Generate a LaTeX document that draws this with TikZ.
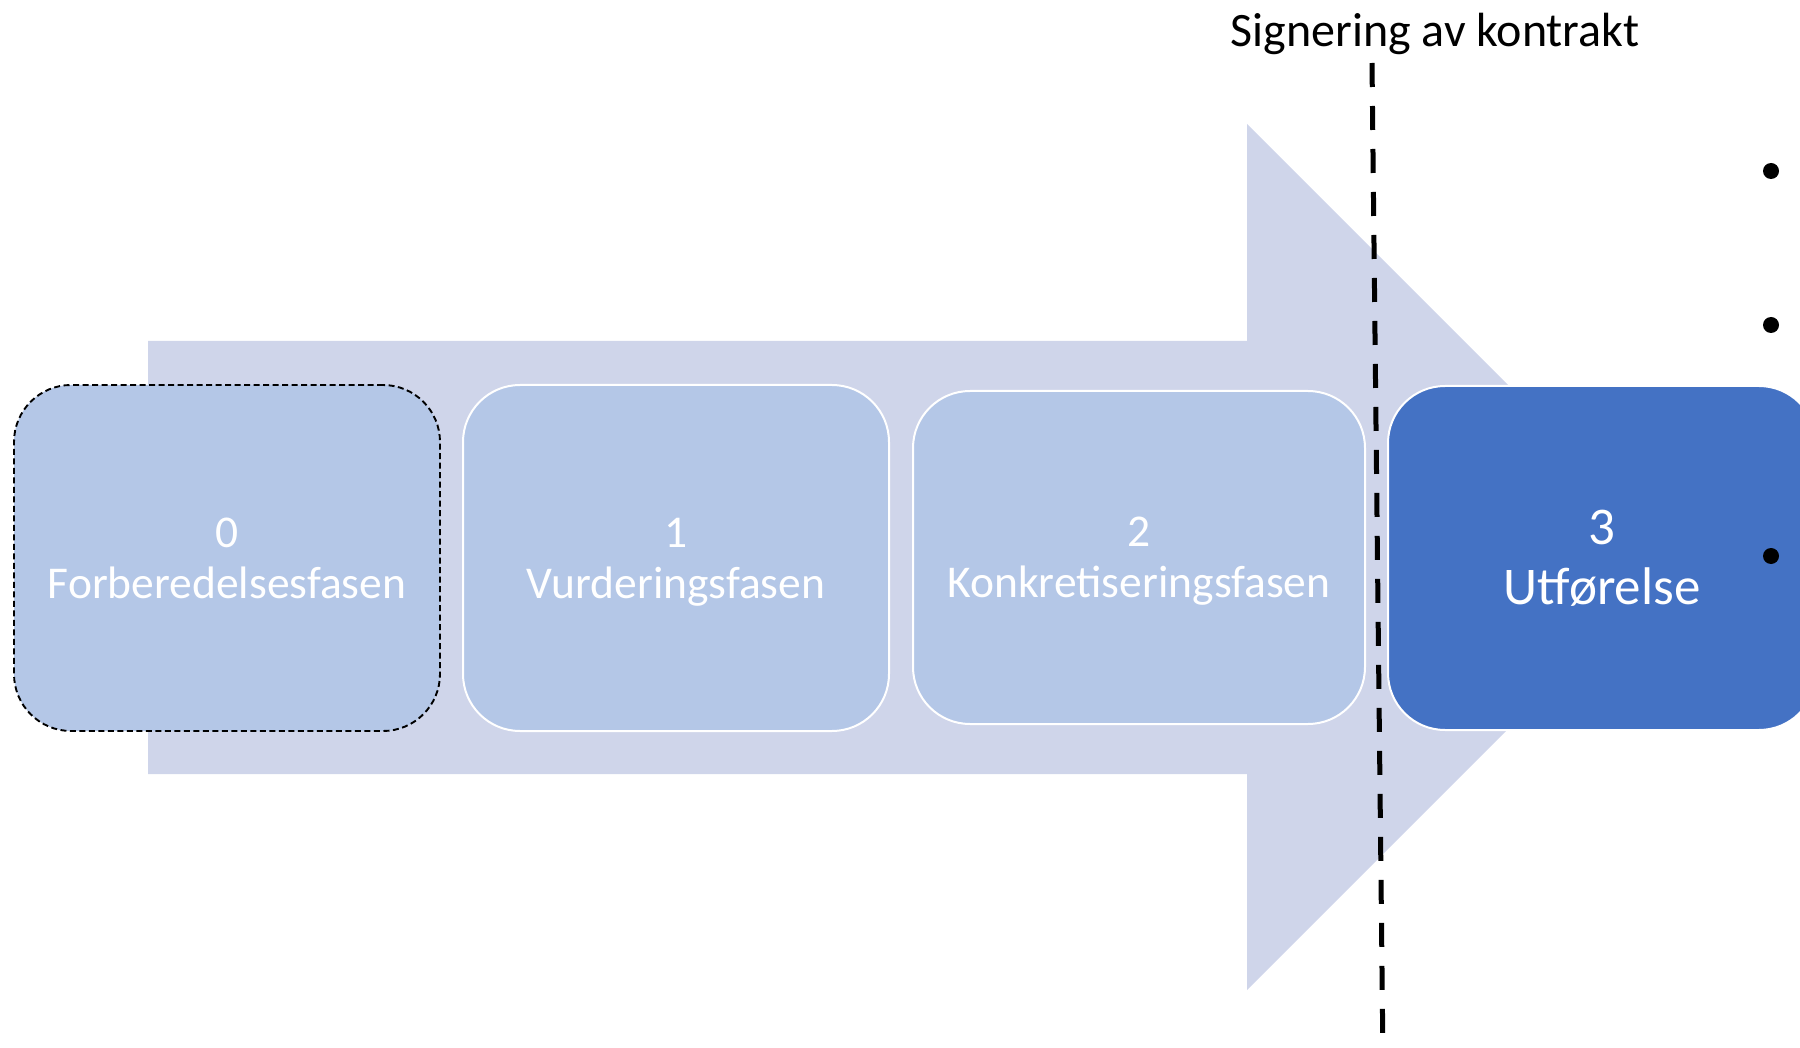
\documentclass[tikz,border=0pt]{standalone}
\usepackage{fontspec}
\setmainfont{Carlito}
\definecolor{arrowfill}{HTML}{CFD5EA}
\definecolor{phaselight}{HTML}{B4C7E7}
\definecolor{phasedark}{HTML}{4472C4}
% a line whose descenders do not count for the node's depth
\newcommand\flatline[1]{\raisebox{0pt}[\height][0pt]{#1}}
\begin{document}
\begin{tikzpicture}[x=1pt,y=-1pt,
  phase/.style={rectangle, rounded corners=57pt, fill=phaselight, draw=white,
    line width=2pt, text=white, align=center, inner sep=0pt,
    font=\fontsize{45.5}{51}\selectfont},
  prephase/.style={phase, draw=black, line width=1.9pt, dash pattern=on 6pt off 3.5pt},
  mainphase/.style={phase, fill=phasedark, font=\fontsize{53}{60}\selectfont},
  bulletdot/.style={circle, fill=black, inner sep=0pt, minimum size=16pt},
  milestone/.style={line width=5pt, dash pattern=on 24pt off 19pt}]
\useasboundingbox (0,0) rectangle (1800,1048);
\clip (0,0) rectangle (1800,1048);
% big process arrow in the background
\fill[arrowfill] (148,341) -- (1247,341) -- (1247,124) -- (1680,557)
  -- (1247,990) -- (1247,774) -- (148,774) -- cycle;
% phases
\node[prephase, minimum width=426pt, minimum height=346pt] (p0) at (227,558)
  {0\\Forberedelsesfasen};
\node[phase, minimum width=426pt, minimum height=346pt] (p1) at (676,558)
  {1\\\flatline{Vurderingsfasen}};
\node[phase, minimum width=452pt, minimum height=333pt] (p2) at (1139,557.5)
  {2\\\flatline{Konkretiseringsfasen}};
\node[mainphase, minimum width=428pt, minimum height=344pt] (p3) at (1602,558)
  {3\\Utførelse};
% contract signing milestone
\node[font=\fontsize{48}{54}\selectfont] (sign) at (1435,34) {Signering av kontrakt};
\coordinate (ms top) at (1372,63);
\coordinate (ms bot) at (1383,1060);
\draw[milestone] (ms top) -- (ms bot);
% bullets on the right
\node[bulletdot] (b1) at (1771,171) {};
\node[bulletdot] (b2) at (1771,325) {};
\node[bulletdot] (b3) at (1771,556) {};
\end{tikzpicture}
\end{document}
